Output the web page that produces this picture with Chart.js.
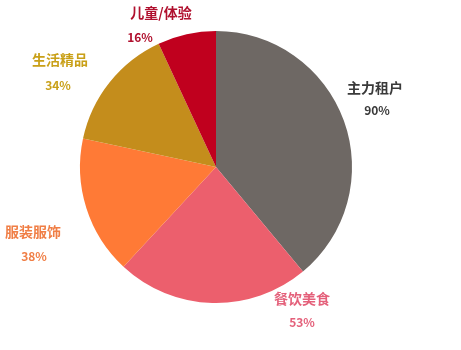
<!DOCTYPE html>
<html>
<head>
<meta charset="utf-8">
<script src="https://cdn.jsdelivr.net/npm/chart.js@4/dist/chart.umd.min.js"></script>
<style>
  html, body { margin: 0; padding: 0; background: #ffffff; }
  #wrap { width: 461px; height: 350px; position: relative; }
</style>
</head>
<body>
<div id="wrap"><canvas id="pie"></canvas></div>
<script>
// Tenant mix categories and their shares
const categories = ['主力租户', '餐饮美食', '服装服饰', '生活精品', '儿童/体验'];
const shares = [90, 53, 38, 34, 16];

// Slice fill colours and label text colours
const sliceColors = ['#6e6864', '#ec5f6d', '#ff7a36', '#c48d1c', '#c0001e'];
const labelColors = ['#3a3a3a', '#e4607a', '#f07e45', '#c9a018', '#b0102e'];

// Where each category label is placed (name centre, percent centre)
const labelLayout = [
  { name: [375, 88],  pct: [377, 110] },
  { name: [302, 299], pct: [302, 322] },
  { name: [33, 232],  pct: [34, 256] },
  { name: [60, 60],   pct: [58, 85] },
  { name: [161, 13],  pct: [140, 37] }
];

const outsideLabels = {
  id: 'outsideLabels',
  afterDraw(chart) {
    const ctx = chart.ctx;
    const data = chart.data.datasets[0].data;
    ctx.save();
    ctx.textAlign = 'center';
    ctx.textBaseline = 'middle';
    chart.data.labels.forEach((name, i) => {
      const pos = labelLayout[i];
      ctx.fillStyle = labelColors[i];
      ctx.font = 'bold 14px "Noto Sans CJK SC", sans-serif';
      ctx.fillText(name, pos.name[0], pos.name[1]);
      ctx.font = 'bold 12px "Noto Sans CJK SC", sans-serif';
      ctx.fillText(data[i] + '%', pos.pct[0], pos.pct[1]);
    });
    ctx.restore();
  }
};

new Chart(document.getElementById('pie'), {
  type: 'pie',
  data: {
    labels: categories,
    datasets: [{
      data: shares,
      backgroundColor: sliceColors,
      borderWidth: 0
    }]
  },
  options: {
    responsive: true,
    maintainAspectRatio: false,
    animation: false,
    layout: { padding: { left: 80, right: 109, top: 31, bottom: 47 } },
    plugins: {
      legend: { display: false },
      tooltip: { enabled: false }
    }
  },
  plugins: [outsideLabels]
});
</script>
</body>
</html>
